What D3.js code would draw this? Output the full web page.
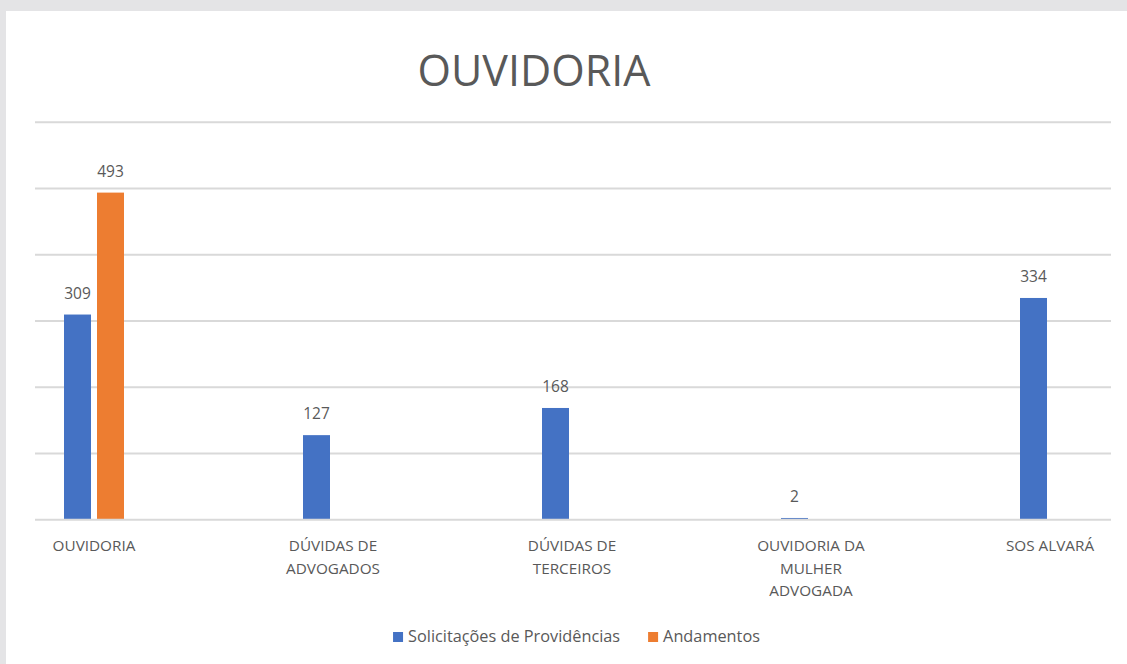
<!DOCTYPE html>
<html>
<head>
<meta charset="utf-8">
<script src="https://cdn.jsdelivr.net/npm/d3@7"></script>
<style>
  html, body { margin: 0; padding: 0; background: #e4e4e6; }
  svg { display: block; }
  text { font-family: "Open Sans", sans-serif; fill: #595959; }
</style>
</head>
<body>
<svg id="chart" width="1127" height="664"></svg>
<script>
const categories = [
  ["OUVIDORIA"],
  ["DÚVIDAS DE", "ADVOGADOS"],
  ["DÚVIDAS DE", "TERCEIROS"],
  ["OUVIDORIA DA", "MULHER", "ADVOGADA"],
  ["SOS ALVARÁ"]
];
const seriesNames = ["Solicitações de Providências", "Andamentos"];
const solicitacoes = [309, 127, 168, 2, 334];
const andamentos = [493, null, null, null, null];
const yTicks = [0, 100, 200, 300, 400, 500, 600];
const colors = ["#4472c4", "#ed7d31"];

const svg = d3.select("#chart");

// white chart panel
svg.append("rect").attr("x", 6).attr("y", 11).attr("width", 1121).attr("height", 653).attr("fill", "#fff");

const keys = categories.map(c => c.join(" "));
const x0 = d3.scaleBand().domain(keys).range([-25.5, 1169.5]);
const x1 = d3.scaleBand().domain(seriesNames).range([0, 60]).paddingInner(2 - 60 / 33);
const y = d3.scaleLinear().domain([0, 600]).range([519.3, 121.7]);

// title
svg.append("text").attr("x", 534).attr("y", 85.5).attr("text-anchor", "middle")
  .style("font-size", "43px").text("OUVIDORIA");

// gridlines
const grid = svg.append("g").attr("transform", "translate(35,0)")
  .call(d3.axisLeft(y).tickValues(yTicks.slice(1)).tickSize(-1076).tickFormat(""));
grid.select(".domain").remove();
grid.selectAll(".tick line").attr("stroke", "#d9d9d9").attr("stroke-width", 2);

// bars
const rows = keys.map((k, i) => ({ key: k, values: [solicitacoes[i], andamentos[i]] }));
const groups = svg.selectAll(".grp").data(rows).enter().append("g")
  .attr("transform", d => `translate(${x0(d.key) + x0.bandwidth() / 2 - 30},0)`);

groups.selectAll("rect")
  .data(d => d.values.map((v, j) => ({ name: seriesNames[j], v, j })).filter(e => e.v != null))
  .enter().append("rect")
  .attr("x", e => x1(e.name))
  .attr("width", x1.bandwidth())
  .attr("y", e => y(e.v))
  .attr("height", e => y(0) - y(e.v))
  .attr("fill", e => colors[e.j]);

groups.selectAll(".val")
  .data(d => d.values.map((v, j) => ({ name: seriesNames[j], v, j })).filter(e => e.v != null))
  .enter().append("text")
  .attr("x", e => x1(e.name) + x1.bandwidth() / 2)
  .attr("y", e => y(e.v) - 16)
  .attr("text-anchor", "middle")
  .style("font-size", "15.5px")
  .text(e => e.v);

// baseline on top of the bars
const base = svg.append("g").attr("transform", "translate(35,0)")
  .call(d3.axisLeft(y).tickValues([yTicks[0]]).tickSize(-1076).tickFormat(""));
base.select(".domain").remove();
base.selectAll(".tick line").attr("stroke", "#d9d9d9").attr("stroke-width", 2);

// category labels
categories.forEach((lines, i) => {
  const cx = x0(keys[i]) + x0.bandwidth() / 2;
  const t = svg.append("text")
    .attr("x", cx)
    .attr("y", 551)
    .attr("text-anchor", "middle")
    .style("font-size", "15.3px");
  lines.forEach((l, k) => t.append("tspan")
    .attr("x", cx)
    .attr("dy", k === 0 ? 0 : 22.5).text(l));
});

// legend
const legend = svg.append("g");
let lx = 0;
seriesNames.forEach((name, j) => {
  legend.append("rect").attr("x", lx).attr("y", 632).attr("width", 10).attr("height", 10).attr("fill", colors[j]);
  const t = legend.append("text").attr("x", lx + 15).attr("y", 642).style("font-size", "16.3px").text(name);
  lx += 15 + t.node().getComputedTextLength() + (j === 0 ? 28 : 0);
});
legend.attr("transform", `translate(${576.5 - lx / 2},0)`);
</script>
</body>
</html>
